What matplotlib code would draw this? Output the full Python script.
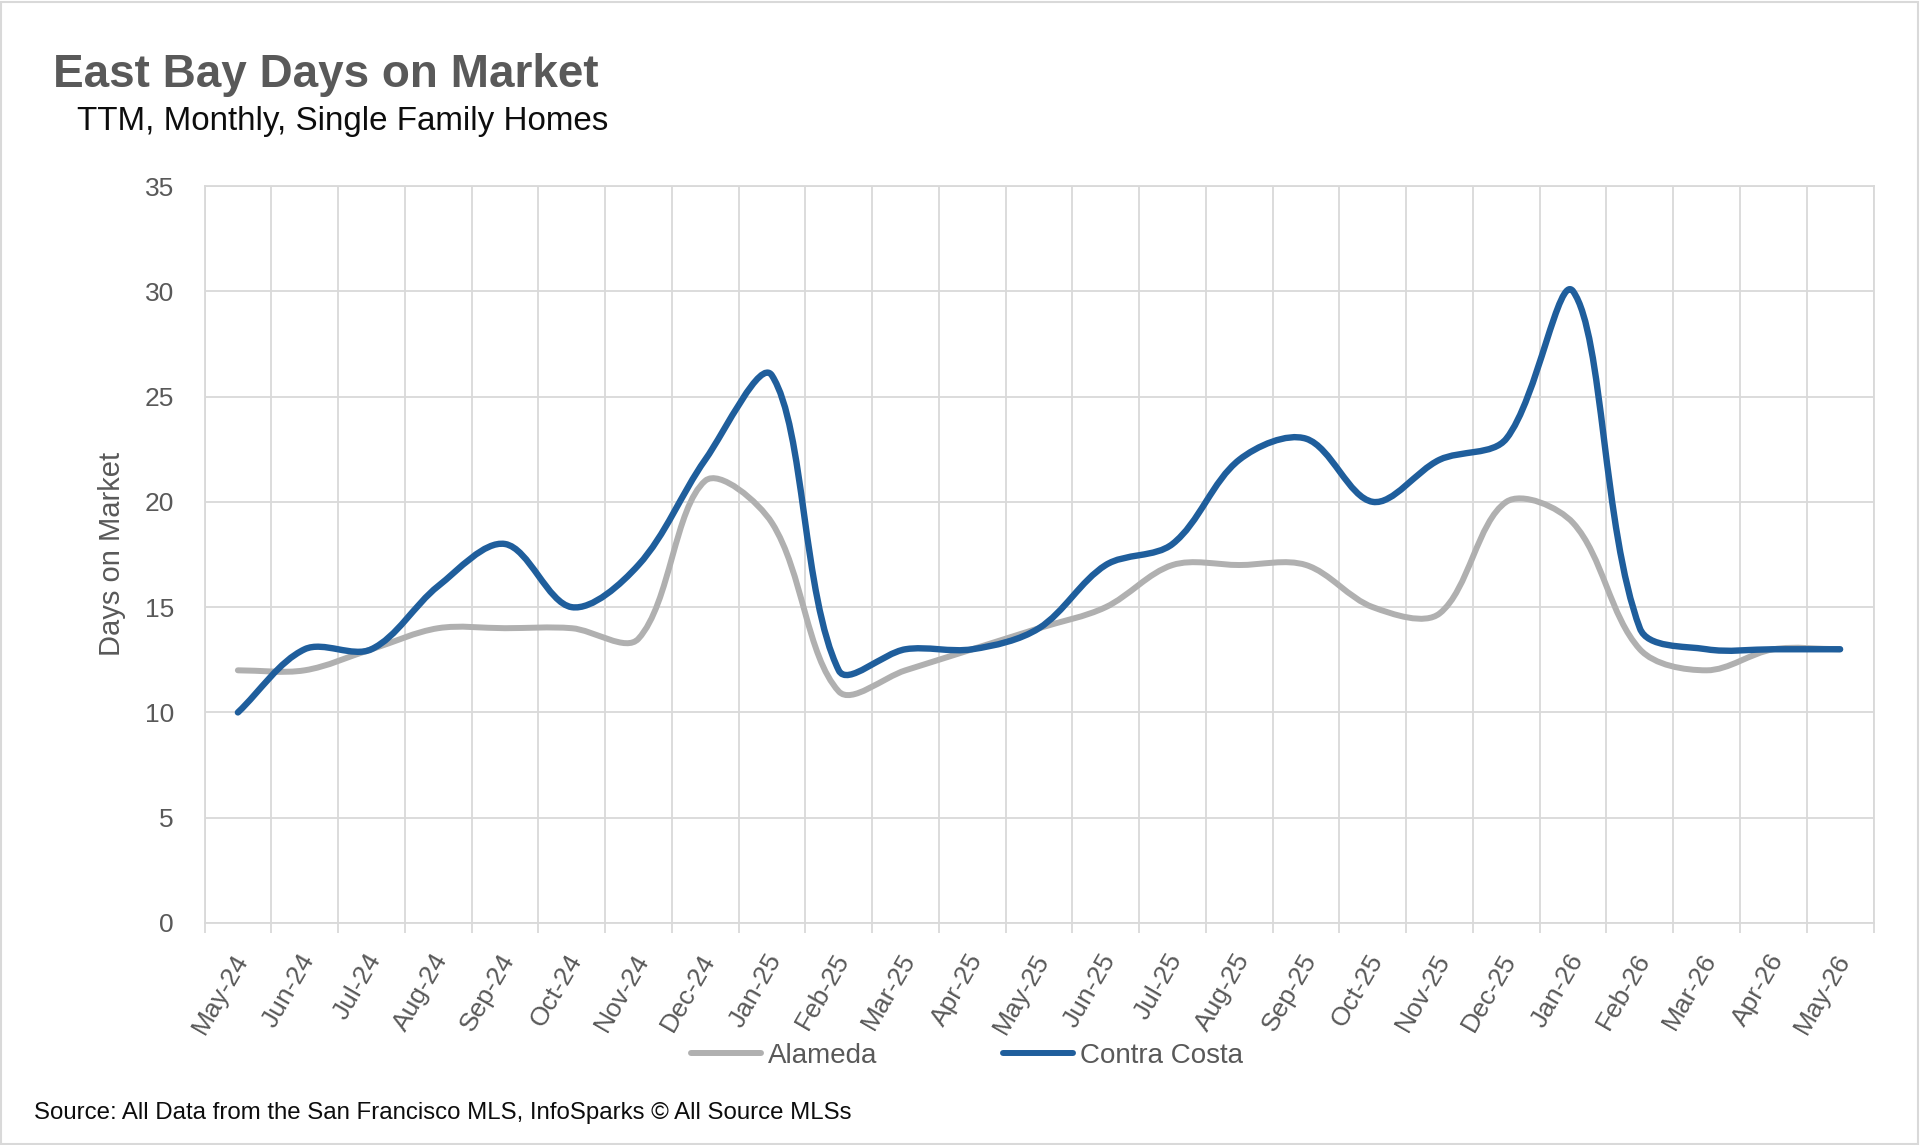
import numpy as np
import matplotlib
matplotlib.use("Agg")
import matplotlib.pyplot as plt
from matplotlib.path import Path
from matplotlib.patches import PathPatch, Rectangle
from matplotlib.lines import Line2D
from matplotlib.transforms import ScaledTranslation

plt.rcParams['font.family'] = ['Liberation Sans', 'DejaVu Sans']

# ---------------- data ----------------
months = ["May-24", "Jun-24", "Jul-24", "Aug-24", "Sep-24", "Oct-24", "Nov-24",
          "Dec-24", "Jan-25", "Feb-25", "Mar-25", "Apr-25", "May-25", "Jun-25",
          "Jul-25", "Aug-25", "Sep-25", "Oct-25", "Nov-25", "Dec-25", "Jan-26",
          "Feb-26", "Mar-26", "Apr-26", "May-26"]
alameda = [12, 12, 13, 14, 14, 14, 13.5, 21, 19, 11, 12, 13, 14, 15, 17, 17, 17,
           15, 14.7, 20, 19, 13, 12, 13, 13]
contra_costa = [10, 13, 13, 16, 18, 15, 17, 22, 26, 12, 13, 13, 14, 17, 18, 22, 23,
                20, 22, 23, 30, 14, 13, 13, 13]
series_names = ["Alameda", "Contra Costa"]
yticks = [0, 5, 10, 15, 20, 25, 30, 35]

GREY = "#B0B0B0"
BLUE = "#1F5E9C"
GRID = "#D9D9D9"
TXT = "#595959"

W, H = 1920, 1145
fig = plt.figure(figsize=(W / 100, H / 100), dpi=100)
L, R, T, B = 204.5, 1873.5, 186, 923
ax = fig.add_axes([L / W, 1 - B / H, (R - L) / W, (B - T) / H])

n = len(months)
ax.set_xlim(0, n)
ax.set_ylim(0, 35)
sx = (R - L) / n      # px per category
sy = (B - T) / 35.0   # px per unit


def smooth_path(vals):
    """Excel-like smoothed line: cubic Bezier through every data point."""
    x = np.arange(len(vals)) + 0.5
    P = np.column_stack([x * sx, np.asarray(vals, float) * sy])
    m = len(P)
    d = np.hypot(*np.diff(P, axis=0).T)
    verts = [P[0]]
    codes = [Path.MOVETO]
    for i in range(m - 1):
        a = P[i - 1] if i > 0 else P[i]
        da = d[i - 1] if i > 0 else 0.0
        c1 = P[i] + (P[i + 1] - a) * d[i] / (da + d[i]) / 3.0
        b = P[i + 2] if i + 2 < m else P[i + 1]
        db = d[i + 1] if i + 2 < m else 0.0
        c2 = P[i + 1] - (b - P[i]) * d[i] / (d[i] + db) / 3.0
        verts += [c1, c2, P[i + 1]]
        codes += [Path.CURVE4] * 3
    verts = np.array(verts) / np.array([sx, sy])
    return Path(verts, codes)


for vals, col, lw, z in [(alameda, GREY, 4.3, 3), (contra_costa, BLUE, 4.6, 4)]:
    patch = PathPatch(smooth_path(vals), facecolor="none", edgecolor=col, lw=lw,
                      capstyle="round", joinstyle="round", zorder=z,
                      transform=ax.transData)
    ax.add_patch(patch)

ax.set_xlim(0, n)
ax.set_ylim(0, 35)

# grid / ticks
ax.set_axisbelow(True)
ax.set_xticks(np.arange(n + 1))
ax.set_xticklabels([])
ax.set_xticks(np.arange(n) + 0.5, minor=True)
ax.set_xticklabels(months, minor=True)
ax.set_yticks(yticks)
ax.set_yticklabels([str(v) for v in yticks])
ax.grid(True, which="major", axis="both", color=GRID, lw=1.3)
for s in ax.spines.values():
    s.set_color(GRID)
    s.set_linewidth(1.3)
ax.tick_params(axis="x", which="major", length=7.2, width=1.3, color=GRID)
ax.tick_params(axis="x", which="minor", length=0, pad=19, labelsize=19,
               labelcolor=TXT)
ax.tick_params(axis="y", length=0, pad=22, labelsize=19, labelcolor=TXT)

off = ScaledTranslation(-6 / 100, 0, fig.dpi_scale_trans)
for lbl in ax.get_xticklabels(minor=True):
    lbl.set_rotation(60)
    lbl.set_ha("right")
    lbl.set_va("top")
    lbl.set_rotation_mode("anchor")
    lbl.set_transform(lbl.get_transform() + off)

# axis title
fig.text(112.5 / W, 1 - 554 / H, "Days on Market", rotation=90, ha="center",
         va="center", fontsize=21, color=TXT)

# titles
fig.text(52.6 / W, 1 - 86.7 / H, "East Bay Days on Market", fontsize=33,
         fontweight="bold", color=TXT, ha="left", va="baseline")
fig.text(77 / W, 1 - 130 / H, "TTM, Monthly, Single Family Homes", fontsize=23.9,
         color="#0D0D0D", ha="left", va="baseline")

# legend
handles = [Line2D([], [], color=GREY, lw=4.3, solid_capstyle="round"),
           Line2D([], [], color=BLUE, lw=4.3, solid_capstyle="round")]
fig.legend(handles, series_names, loc="center", bbox_to_anchor=(967 / W, 1 - 1056 / H),
           ncol=2, frameon=False, fontsize=20, handlelength=2.53, handletextpad=0.25,
           columnspacing=4.5, borderpad=0, labelcolor=TXT)

# source
fig.text(34 / W, 1 - 1119 / H,
         "Source: All Data from the San Francisco MLS, InfoSparks \u00a9 All Source MLSs",
         fontsize=17.3, color="#0D0D0D", ha="left", va="baseline")

# outer border
fig.patches.append(Rectangle((1 / W, 1 / H), 1 - 3 / W, 1 - 3 / H, transform=fig.transFigure,
                             fill=False, edgecolor=GRID, lw=1.5))

fig.savefig("out.png", dpi=100, facecolor="white")
